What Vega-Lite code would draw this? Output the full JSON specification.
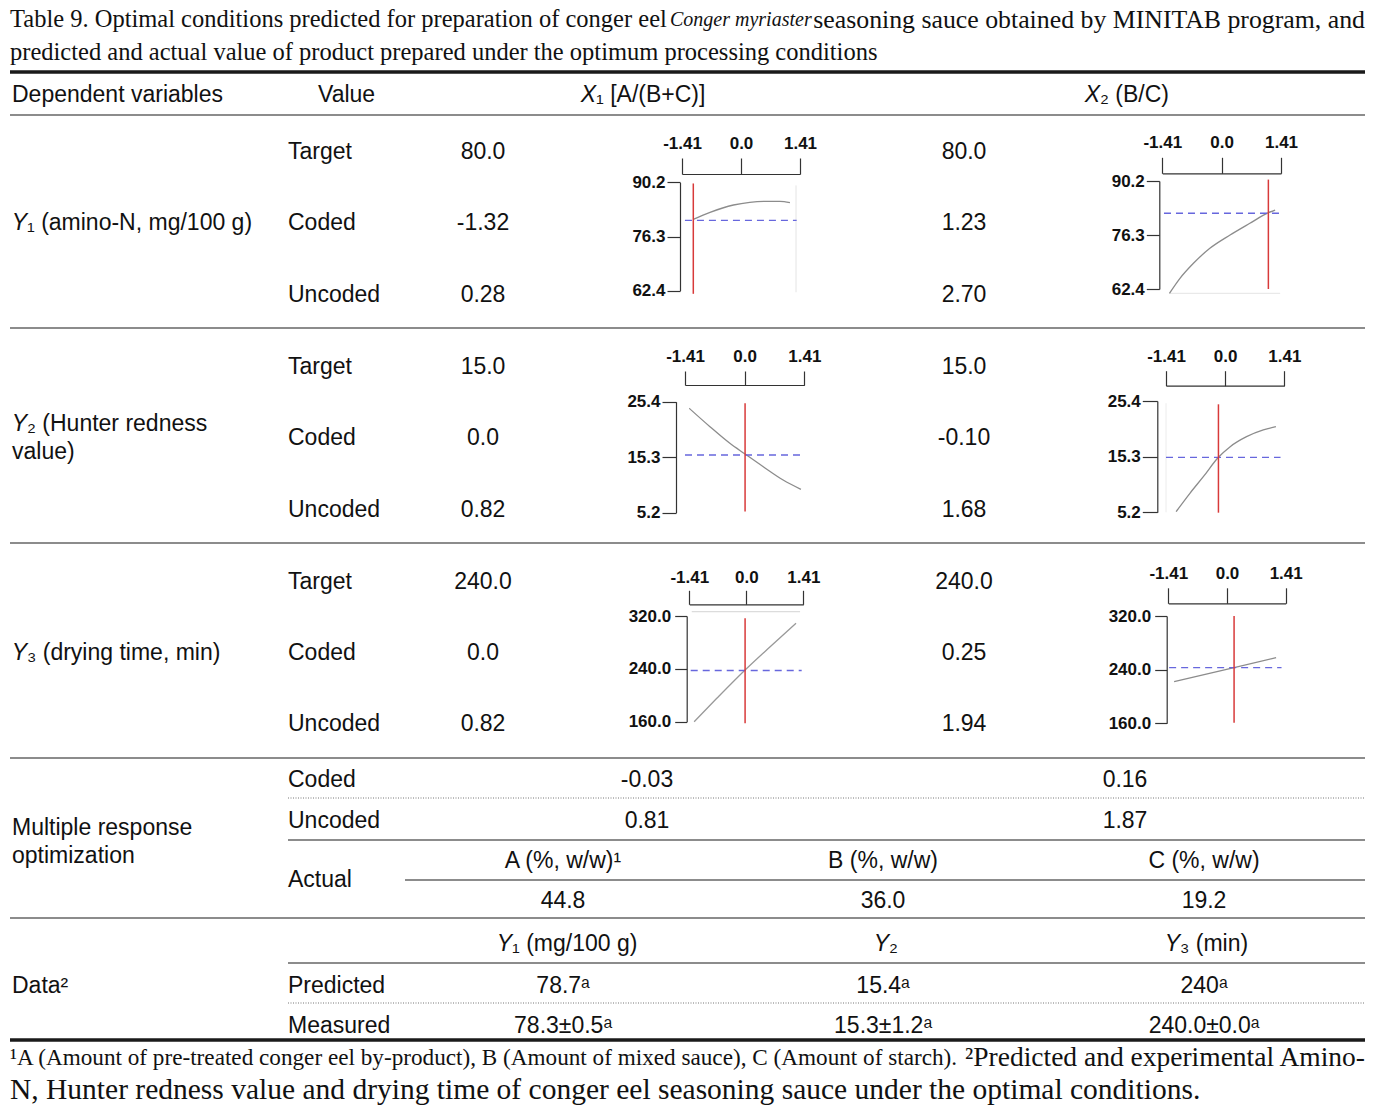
{
"$schema": "https://vega.github.io/schema/vega-lite/v6.json",
"width": 1385, "height": 1113, "padding": 0, "autosize": {"type": "none"},
"background": "white",
"config": {"view": {"stroke": null},
 "text": {"color": "#111", "baseline": "middle"},
 "axis": {"domainColor": "#333", "tickColor": "#333", "labelFont": "Liberation Sans", "labelFontWeight": "bold", "labelFontSize": 17, "labelColor": "#111", "grid": false, "labelFlush": false, "labelOverlap": false, "labelBound": false, "domainWidth": 1.2, "tickWidth": 1.2, "labelAngle": 0}},
"datasets": {
 "texts": [
  {"t": "Table 9. Optimal conditions predicted for preparation of conger eel", "col": 0, "row": 0, "role": "t1a"},
  {"t": "Conger myriaster", "col": 11, "row": 0, "role": "t1i"},
  {"t": "seasoning sauce obtained by MINITAB program, and", "col": 19, "row": 0, "role": "t1c"},
  {"t": "predicted and actual value of product prepared under the optimum processing conditions", "col": 0, "row": 1, "role": "t2"},
  {"t": "Dependent variables", "col": 1, "row": 3, "role": "l"},
  {"t": "Value", "col": 4, "row": 3, "role": "l"},
  {"t": "X", "col": 9, "row": 3, "role": "ir"},
  {"t": "₁ [A/(B+C)]", "col": 9, "row": 3, "role": "l"},
  {"t": "X", "col": 15, "row": 3, "role": "ir"},
  {"t": "₂ (B/C)", "col": 15, "row": 3, "role": "l"},
  {"t": "Y", "col": 2, "row": 6, "role": "ir"},
  {"t": "₁ (amino-N, mg/100 g)", "col": 2, "row": 6, "role": "l"},
  {"t": "Target", "col": 3, "row": 5, "role": "l"},
  {"t": "Coded", "col": 3, "row": 6, "role": "l"},
  {"t": "Uncoded", "col": 3, "row": 7, "role": "l"},
  {"t": "80.0", "col": 6, "row": 5, "role": "c"},
  {"t": "-1.32", "col": 6, "row": 6, "role": "c"},
  {"t": "0.28", "col": 6, "row": 7, "role": "c"},
  {"t": "80.0", "col": 14, "row": 5, "role": "c"},
  {"t": "1.23", "col": 14, "row": 6, "role": "c"},
  {"t": "2.70", "col": 14, "row": 7, "role": "c"},
  {"t": "Y", "col": 2, "row": 10, "role": "ir"},
  {"t": "₂ (Hunter redness", "col": 2, "row": 10, "role": "l"},
  {"t": "value)", "col": 1, "row": 12, "role": "l"},
  {"t": "Target", "col": 3, "row": 9, "role": "l"},
  {"t": "Coded", "col": 3, "row": 11, "role": "l"},
  {"t": "Uncoded", "col": 3, "row": 13, "role": "l"},
  {"t": "15.0", "col": 6, "row": 9, "role": "c"},
  {"t": "0.0", "col": 6, "row": 11, "role": "c"},
  {"t": "0.82", "col": 6, "row": 13, "role": "c"},
  {"t": "15.0", "col": 14, "row": 9, "role": "c"},
  {"t": "-0.10", "col": 14, "row": 11, "role": "c"},
  {"t": "1.68", "col": 14, "row": 13, "role": "c"},
  {"t": "Y", "col": 2, "row": 16, "role": "ir"},
  {"t": "₃ (drying time, min)", "col": 2, "row": 16, "role": "l"},
  {"t": "Target", "col": 3, "row": 15, "role": "l"},
  {"t": "Coded", "col": 3, "row": 16, "role": "l"},
  {"t": "Uncoded", "col": 3, "row": 17, "role": "l"},
  {"t": "240.0", "col": 6, "row": 15, "role": "c"},
  {"t": "0.0", "col": 6, "row": 16, "role": "c"},
  {"t": "0.82", "col": 6, "row": 17, "role": "c"},
  {"t": "240.0", "col": 14, "row": 15, "role": "c"},
  {"t": "0.25", "col": 14, "row": 16, "role": "c"},
  {"t": "1.94", "col": 14, "row": 17, "role": "c"},
  {"t": "Multiple response", "col": 1, "row": 22, "role": "l"},
  {"t": "optimization", "col": 1, "row": 24, "role": "l"},
  {"t": "Coded", "col": 3, "row": 19, "role": "l"},
  {"t": "Uncoded", "col": 3, "row": 21, "role": "l"},
  {"t": "Actual", "col": 3, "row": 26, "role": "l"},
  {"t": "-0.03", "col": 10, "row": 19, "role": "c"},
  {"t": "0.16", "col": 16, "row": 19, "role": "c"},
  {"t": "0.81", "col": 10, "row": 21, "role": "c"},
  {"t": "1.87", "col": 16, "row": 21, "role": "c"},
  {"t": "A (%, w/w)¹", "col": 8, "row": 25, "role": "c"},
  {"t": "B (%, w/w)", "col": 12, "row": 25, "role": "c"},
  {"t": "C (%, w/w)", "col": 18, "row": 25, "role": "c"},
  {"t": "44.8", "col": 8, "row": 27, "role": "c"},
  {"t": "36.0", "col": 12, "row": 27, "role": "c"},
  {"t": "19.2", "col": 18, "row": 27, "role": "c"},
  {"t": "Data²", "col": 1, "row": 31, "role": "l"},
  {"t": "Y", "col": 7, "row": 29, "role": "ir"},
  {"t": "₁ (mg/100 g)", "col": 7, "row": 29, "role": "l"},
  {"t": "Y", "col": 13, "row": 29, "role": "ir"},
  {"t": "₂", "col": 13, "row": 29, "role": "l"},
  {"t": "Y", "col": 17, "row": 29, "role": "ir"},
  {"t": "₃ (min)", "col": 17, "row": 29, "role": "l"},
  {"t": "Predicted", "col": 3, "row": 31, "role": "l"},
  {"t": "Measured", "col": 3, "row": 33, "role": "l"},
  {"t": "78.7ᵃ", "col": 8, "row": 31, "role": "c"},
  {"t": "15.4ᵃ", "col": 12, "row": 31, "role": "c"},
  {"t": "240ᵃ", "col": 18, "row": 31, "role": "c"},
  {"t": "78.3±0.5ᵃ", "col": 8, "row": 33, "role": "c"},
  {"t": "15.3±1.2ᵃ", "col": 12, "row": 33, "role": "c"},
  {"t": "240.0±0.0ᵃ", "col": 18, "row": 33, "role": "c"},
  {"t": "¹A (Amount of pre-treated conger eel by-product), B (Amount of mixed sauce), C (Amount of starch).", "col": 0, "row": 35, "role": "f1a"},
  {"t": "²Predicted and experimental Amino-", "col": 19, "row": 35, "role": "f1b"},
  {"t": "N, Hunter redness value and drying time of conger eel seasoning sauce under the optimal conditions.", "col": 0, "row": 36, "role": "f2"}
 ],
 "rules": [
  {"row": 2, "col": 0, "col2": 19, "kind": "thick"},
  {"row": 4, "col": 0, "col2": 19, "kind": "thin"},
  {"row": 8, "col": 0, "col2": 19, "kind": "thin"},
  {"row": 14, "col": 0, "col2": 19, "kind": "thin"},
  {"row": 18, "col": 0, "col2": 19, "kind": "thin"},
  {"row": 20, "col": 3, "col2": 19, "kind": "dot"},
  {"row": 23, "col": 3, "col2": 19, "kind": "thin"},
  {"row": 26, "col": 5, "col2": 19, "kind": "thin"},
  {"row": 28, "col": 0, "col2": 19, "kind": "thin"},
  {"row": 30, "col": 3, "col2": 19, "kind": "thin"},
  {"row": 32, "col": 3, "col2": 19, "kind": "dot"},
  {"row": 34, "col": 0, "col2": 19, "kind": "thick"}
 ],
 "mini": [
  {"panel": "Y1X1", "part": "curve", "cx": -1.14, "cy": 80.71},
  {"panel": "Y1X1", "part": "curve", "cx": -0.74, "cy": 82.51},
  {"panel": "Y1X1", "part": "curve", "cx": -0.18, "cy": 84.38},
  {"panel": "Y1X1", "part": "curve", "cx": 0.21, "cy": 85.07},
  {"panel": "Y1X1", "part": "curve", "cx": 0.61, "cy": 85.33},
  {"panel": "Y1X1", "part": "curve", "cx": 0.93, "cy": 85.33},
  {"panel": "Y1X1", "part": "curve", "cx": 1.17, "cy": 84.97},
  {"panel": "Y1X1", "part": "opt", "cx": -1.14, "cx2": -1.14, "cy": 61.6, "cy2": 89.9},
  {"panel": "Y1X1", "part": "target", "cx": -1.34, "cx2": 1.33, "cy": 80.45, "cy2": 80.45},
  {"panel": "Y1X1", "part": "frame", "cx": 1.315, "cx2": 1.315, "cy": 62.0, "cy2": 89.4},
  {"panel": "Y1X2", "part": "curve", "cx": -1.24, "cy": 61.29},
  {"panel": "Y1X2", "part": "curve", "cx": -0.99, "cy": 65.15},
  {"panel": "Y1X2", "part": "curve", "cx": -0.67, "cy": 69.02},
  {"panel": "Y1X2", "part": "curve", "cx": -0.28, "cy": 72.88},
  {"panel": "Y1X2", "part": "curve", "cx": 0.2, "cy": 76.3},
  {"panel": "Y1X2", "part": "curve", "cx": 0.67, "cy": 79.31},
  {"panel": "Y1X2", "part": "curve", "cx": 1.11, "cy": 82.04},
  {"panel": "Y1X2", "part": "curve", "cx": 1.27, "cy": 82.73},
  {"panel": "Y1X2", "part": "opt", "cx": 1.11, "cx2": 1.11, "cy": 62.4, "cy2": 90.56},
  {"panel": "Y1X2", "part": "target", "cx": -1.37, "cx2": 1.4, "cy": 81.9, "cy2": 81.9},
  {"panel": "Y1X2", "part": "frame", "cx": -1.24, "cx2": 1.39, "cy": 61.29, "cy2": 61.29},
  {"panel": "Y2X1", "part": "curve", "cx": -1.31, "cy": 24.2},
  {"panel": "Y2X1", "part": "curve", "cx": -0.82, "cy": 20.85},
  {"panel": "Y2X1", "part": "curve", "cx": -0.35, "cy": 17.83},
  {"panel": "Y2X1", "part": "curve", "cx": 0.01, "cy": 15.88},
  {"panel": "Y2X1", "part": "curve", "cx": 0.44, "cy": 13.57},
  {"panel": "Y2X1", "part": "curve", "cx": 0.91, "cy": 11.15},
  {"panel": "Y2X1", "part": "curve", "cx": 1.33, "cy": 9.46},
  {"panel": "Y2X1", "part": "opt", "cx": 0.01, "cx2": 0.01, "cy": 5.4, "cy2": 25.1},
  {"panel": "Y2X1", "part": "target", "cx": -1.41, "cx2": 1.33, "cy": 15.7, "cy2": 15.7},
  {"panel": "Y2X2", "part": "curve", "cx": -1.17, "cy": 5.31},
  {"panel": "Y2X2", "part": "curve", "cx": -0.84, "cy": 8.65},
  {"panel": "Y2X2", "part": "curve", "cx": -0.52, "cy": 11.66},
  {"panel": "Y2X2", "part": "curve", "cx": -0.16, "cy": 15.18},
  {"panel": "Y2X2", "part": "curve", "cx": 0.12, "cy": 17.11},
  {"panel": "Y2X2", "part": "curve", "cx": 0.51, "cy": 18.92},
  {"panel": "Y2X2", "part": "curve", "cx": 0.91, "cy": 20.14},
  {"panel": "Y2X2", "part": "curve", "cx": 1.21, "cy": 20.74},
  {"panel": "Y2X2", "part": "opt", "cx": -0.16, "cx2": -0.16, "cy": 5.13, "cy2": 24.8},
  {"panel": "Y2X2", "part": "target", "cx": -1.41, "cx2": 1.32, "cy": 15.18, "cy2": 15.18},
  {"panel": "Y2X2", "part": "frame", "cx": -1.41, "cx2": -1.41, "cy": 5.2, "cy2": 25.0},
  {"panel": "Y3X1", "part": "curve", "cx": -1.29, "cy": 160},
  {"panel": "Y3X1", "part": "curve", "cx": -0.73, "cy": 195.4},
  {"panel": "Y3X1", "part": "curve", "cx": -0.03, "cy": 238.3},
  {"panel": "Y3X1", "part": "curve", "cx": 0.59, "cy": 273.5},
  {"panel": "Y3X1", "part": "curve", "cx": 1.23, "cy": 308.9},
  {"panel": "Y3X1", "part": "opt", "cx": -0.03, "cx2": -0.03, "cy": 157.6, "cy2": 316.5},
  {"panel": "Y3X1", "part": "target", "cx": -1.375, "cx2": 1.37, "cy": 237.5, "cy2": 237.5},
  {"panel": "Y3X1", "part": "frame", "cx": -1.35, "cx2": 1.33, "cy": 326.5, "cy2": 326.5},
  {"panel": "Y3X2", "part": "curve", "cx": -1.27, "cy": 222.0},
  {"panel": "Y3X2", "part": "curve", "cx": 0.17, "cy": 243.0},
  {"panel": "Y3X2", "part": "curve", "cx": 1.18, "cy": 257.8},
  {"panel": "Y3X2", "part": "opt", "cx": 0.17, "cx2": 0.17, "cy": 160.9, "cy2": 320},
  {"panel": "Y3X2", "part": "target", "cx": -1.39, "cx2": 1.31, "cy": 242.9, "cy2": 242.9}
 ]
},
"resolve": {"scale": {"x": "independent", "y": "independent"}, "axis": {"x": "independent", "y": "independent"}},
"layer": [
 {
  "encoding": {
   "x": {"field": "col", "type": "quantitative", "axis": null, "scale": {"domain": [0,1,2,3,4,5,6,7,8,9,10,11,12,13,14,15,16,17,18,19], "range": [10,12,27,288,318,405,483,512,563,596,647,670,883,889,964,1100,1125,1180,1204,1365], "nice": false, "zero": false}},
   "y": {"field": "row", "type": "quantitative", "axis": null, "scale": {"domain": [0,1,2,3,4,5,6,7,8,9,10,11,12,13,14,15,16,17,18,19,20,21,22,23,24,25,26,27,28,29,30,31,32,33,34,35,36], "range": [20,53,72,95,115,152,223,295,328,367,424,438,452,510,543,582,653,724,758,780,798,821,828,840,856,861,880,901,918,944,963,986,1003,1026,1040,1058,1090], "nice": false, "zero": false}}
  },
  "layer": [
   {"data": {"name": "rules"}, "transform": [{"filter": "datum.kind === 'thin'"}], "mark": {"type": "rule", "color": "#8c8c8c", "strokeWidth": 2}, "encoding": {"x2": {"field": "col2"}}},
   {"data": {"name": "rules"}, "transform": [{"filter": "datum.kind === 'dot'"}], "mark": {"type": "rule", "color": "#777", "strokeWidth": 1, "strokeDash": [1, 1.5]}, "encoding": {"x2": {"field": "col2"}}},
   {"data": {"name": "rules"}, "transform": [{"filter": "datum.kind === 'thick'"}], "mark": {"type": "rule", "color": "#1a1a1a", "strokeWidth": 3.5}, "encoding": {"x2": {"field": "col2"}}},
   {"data": {"name": "texts"}, "transform": [{"filter": "datum.role === 't1a'"}], "mark": {"type": "text", "align": "left", "font": "Liberation Serif", "fontSize": 24.5}, "encoding": {"text": {"field": "t"}}},
   {"data": {"name": "texts"}, "transform": [{"filter": "datum.role === 't1i'"}], "mark": {"type": "text", "align": "left", "font": "Liberation Serif", "fontStyle": "italic", "fontSize": 20}, "encoding": {"text": {"field": "t"}}},
   {"data": {"name": "texts"}, "transform": [{"filter": "datum.role === 't1c'"}], "mark": {"type": "text", "align": "right", "font": "Liberation Serif", "fontSize": 25.8}, "encoding": {"text": {"field": "t"}}},
   {"data": {"name": "texts"}, "transform": [{"filter": "datum.role === 't2'"}], "mark": {"type": "text", "align": "left", "font": "Liberation Serif", "fontSize": 24.5}, "encoding": {"text": {"field": "t"}}},
   {"data": {"name": "texts"}, "transform": [{"filter": "datum.role === 'f1a'"}], "mark": {"type": "text", "align": "left", "font": "Liberation Serif", "fontSize": 23.2}, "encoding": {"text": {"field": "t"}}},
   {"data": {"name": "texts"}, "transform": [{"filter": "datum.role === 'f1b'"}], "mark": {"type": "text", "align": "right", "font": "Liberation Serif", "fontSize": 27.5}, "encoding": {"text": {"field": "t"}}},
   {"data": {"name": "texts"}, "transform": [{"filter": "datum.role === 'f2'"}], "mark": {"type": "text", "align": "left", "font": "Liberation Serif", "fontSize": 29.5}, "encoding": {"text": {"field": "t"}}},
   {"data": {"name": "texts"}, "transform": [{"filter": "datum.role === 'l'"}], "mark": {"type": "text", "align": "left", "font": "Liberation Sans", "fontSize": 23}, "encoding": {"text": {"field": "t"}}},
   {"data": {"name": "texts"}, "transform": [{"filter": "datum.role === 'c'"}], "mark": {"type": "text", "align": "center", "font": "Liberation Sans", "fontSize": 23}, "encoding": {"text": {"field": "t"}}},
   {"data": {"name": "texts"}, "transform": [{"filter": "datum.role === 'ir'"}], "mark": {"type": "text", "align": "right", "font": "Liberation Sans", "fontStyle": "italic", "fontSize": 23}, "encoding": {"text": {"field": "t"}}}
  ]
 },
 {
  "data": {"name": "mini"}, "transform": [{"filter": "datum.panel === 'Y1X1'"}],
  "encoding": {
   "x": {"field": "cx", "type": "quantitative", "scale": {"domain": [-1.41, 1.41], "range": [682, 800], "nice": false, "zero": false}, "axis": {"orient": "top", "offset": -174, "tickSize": 16, "labelPadding": 6, "values": [-1.41, 0, 1.41], "labelExpr": "datum.value < 0 ? '-1.41' : (datum.value > 0 ? '1.41' : '0.0')", "title": null}},
   "y": {"field": "cy", "type": "quantitative", "scale": {"domain": [62.4, 90.2], "range": [290.7, 182.3], "nice": false, "zero": false}, "axis": {"orient": "left", "offset": -680, "tickSize": 13, "labelPadding": 2, "values": [62.4, 76.3, 90.2], "format": ".1f", "title": null}}
  },
  "layer": [
   {"transform": [{"filter": "datum.part === 'frame'"}], "mark": {"type": "rule", "color": "#e4e4e4", "strokeWidth": 1}, "encoding": {"x2": {"field": "cx2"}, "y2": {"field": "cy2"}}},
   {"transform": [{"filter": "datum.part === 'curve'"}], "mark": {"type": "line", "color": "#8c8c8c", "strokeWidth": 1.3, "interpolate": "monotone"}},
   {"transform": [{"filter": "datum.part === 'target'"}], "mark": {"type": "rule", "color": "#6767dd", "strokeWidth": 1.3, "strokeDash": [7, 5]}, "encoding": {"x2": {"field": "cx2"}, "y2": {"field": "cy2"}}},
   {"transform": [{"filter": "datum.part === 'opt'"}], "mark": {"type": "rule", "color": "#d83a3a", "strokeWidth": 1.5}, "encoding": {"x2": {"field": "cx2"}, "y2": {"field": "cy2"}}}
  ]
 },
 {
  "data": {"name": "mini"}, "transform": [{"filter": "datum.panel === 'Y1X2'"}],
  "encoding": {
   "x": {"field": "cx", "type": "quantitative", "scale": {"domain": [-1.41, 1.41], "range": [1162.3, 1281], "nice": false, "zero": false}, "axis": {"orient": "top", "offset": -173.3, "tickSize": 16, "labelPadding": 6, "values": [-1.41, 0, 1.41], "labelExpr": "datum.value < 0 ? '-1.41' : (datum.value > 0 ? '1.41' : '0.0')", "title": null}},
   "y": {"field": "cy", "type": "quantitative", "scale": {"domain": [62.4, 90.2], "range": [289, 181], "nice": false, "zero": false}, "axis": {"orient": "left", "offset": -1159.3, "tickSize": 13, "labelPadding": 2, "values": [62.4, 76.3, 90.2], "format": ".1f", "title": null}}
  },
  "layer": [
   {"transform": [{"filter": "datum.part === 'frame'"}], "mark": {"type": "rule", "color": "#e4e4e4", "strokeWidth": 1}, "encoding": {"x2": {"field": "cx2"}, "y2": {"field": "cy2"}}},
   {"transform": [{"filter": "datum.part === 'curve'"}], "mark": {"type": "line", "color": "#8c8c8c", "strokeWidth": 1.3, "interpolate": "monotone"}},
   {"transform": [{"filter": "datum.part === 'target'"}], "mark": {"type": "rule", "color": "#6767dd", "strokeWidth": 1.3, "strokeDash": [7, 5]}, "encoding": {"x2": {"field": "cx2"}, "y2": {"field": "cy2"}}},
   {"transform": [{"filter": "datum.part === 'opt'"}], "mark": {"type": "rule", "color": "#d83a3a", "strokeWidth": 1.5}, "encoding": {"x2": {"field": "cx2"}, "y2": {"field": "cy2"}}}
  ]
 },
 {
  "data": {"name": "mini"}, "transform": [{"filter": "datum.panel === 'Y2X1'"}],
  "encoding": {
   "x": {"field": "cx", "type": "quantitative", "scale": {"domain": [-1.41, 1.41], "range": [685, 804.3], "nice": false, "zero": false}, "axis": {"orient": "top", "offset": -385, "tickSize": 14, "labelPadding": 6, "values": [-1.41, 0, 1.41], "labelExpr": "datum.value < 0 ? '-1.41' : (datum.value > 0 ? '1.41' : '0.0')", "title": null}},
   "y": {"field": "cy", "type": "quantitative", "scale": {"domain": [5.2, 25.4], "range": [512.7, 401.7], "nice": false, "zero": false}, "axis": {"orient": "left", "offset": -676, "tickSize": 14, "labelPadding": 2, "values": [5.2, 15.3, 25.4], "format": ".1f", "title": null}}
  },
  "layer": [
   {"transform": [{"filter": "datum.part === 'frame'"}], "mark": {"type": "rule", "color": "#e4e4e4", "strokeWidth": 1}, "encoding": {"x2": {"field": "cx2"}, "y2": {"field": "cy2"}}},
   {"transform": [{"filter": "datum.part === 'curve'"}], "mark": {"type": "line", "color": "#8c8c8c", "strokeWidth": 1.3, "interpolate": "monotone"}},
   {"transform": [{"filter": "datum.part === 'target'"}], "mark": {"type": "rule", "color": "#6767dd", "strokeWidth": 1.3, "strokeDash": [7, 5]}, "encoding": {"x2": {"field": "cx2"}, "y2": {"field": "cy2"}}},
   {"transform": [{"filter": "datum.part === 'opt'"}], "mark": {"type": "rule", "color": "#d83a3a", "strokeWidth": 1.5}, "encoding": {"x2": {"field": "cx2"}, "y2": {"field": "cy2"}}}
  ]
 },
 {
  "data": {"name": "mini"}, "transform": [{"filter": "datum.panel === 'Y2X2'"}],
  "encoding": {
   "x": {"field": "cx", "type": "quantitative", "scale": {"domain": [-1.41, 1.41], "range": [1166, 1284.3], "nice": false, "zero": false}, "axis": {"orient": "top", "offset": -385.7, "tickSize": 15, "labelPadding": 5, "values": [-1.41, 0, 1.41], "labelExpr": "datum.value < 0 ? '-1.41' : (datum.value > 0 ? '1.41' : '0.0')", "title": null}},
   "y": {"field": "cy", "type": "quantitative", "scale": {"domain": [5.2, 25.4], "range": [512.3, 401], "nice": false, "zero": false}, "axis": {"orient": "left", "offset": -1157.3, "tickSize": 15, "labelPadding": 2, "values": [5.2, 15.3, 25.4], "format": ".1f", "title": null}}
  },
  "layer": [
   {"transform": [{"filter": "datum.part === 'frame'"}], "mark": {"type": "rule", "color": "#ececec", "strokeWidth": 1}, "encoding": {"x2": {"field": "cx2"}, "y2": {"field": "cy2"}}},
   {"transform": [{"filter": "datum.part === 'curve'"}], "mark": {"type": "line", "color": "#8c8c8c", "strokeWidth": 1.3, "interpolate": "monotone"}},
   {"transform": [{"filter": "datum.part === 'target'"}], "mark": {"type": "rule", "color": "#6767dd", "strokeWidth": 1.3, "strokeDash": [7, 5]}, "encoding": {"x2": {"field": "cx2"}, "y2": {"field": "cy2"}}},
   {"transform": [{"filter": "datum.part === 'opt'"}], "mark": {"type": "rule", "color": "#d83a3a", "strokeWidth": 1.5}, "encoding": {"x2": {"field": "cx2"}, "y2": {"field": "cy2"}}}
  ]
 },
 {
  "data": {"name": "mini"}, "transform": [{"filter": "datum.panel === 'Y3X1'"}],
  "encoding": {
   "x": {"field": "cx", "type": "quantitative", "scale": {"domain": [-1.41, 1.41], "range": [689.3, 803.3], "nice": false, "zero": false}, "axis": {"orient": "top", "offset": -604.3, "tickSize": 14, "labelPadding": 4, "values": [-1.41, 0, 1.41], "labelExpr": "datum.value < 0 ? '-1.41' : (datum.value > 0 ? '1.41' : '0.0')", "title": null}},
   "y": {"field": "cy", "type": "quantitative", "scale": {"domain": [160, 320], "range": [721.7, 616], "nice": false, "zero": false}, "axis": {"orient": "left", "offset": -686.7, "tickSize": 12, "labelPadding": 4, "values": [160, 240, 320], "format": ".1f", "title": null}}
  },
  "layer": [
   {"transform": [{"filter": "datum.part === 'frame'"}], "mark": {"type": "rule", "color": "#d4d4d4", "strokeWidth": 1}, "encoding": {"x2": {"field": "cx2"}, "y2": {"field": "cy2"}}},
   {"transform": [{"filter": "datum.part === 'curve'"}], "mark": {"type": "line", "color": "#999", "strokeWidth": 1.3, "interpolate": "monotone"}},
   {"transform": [{"filter": "datum.part === 'target'"}], "mark": {"type": "rule", "color": "#6767dd", "strokeWidth": 1.3, "strokeDash": [7, 5]}, "encoding": {"x2": {"field": "cx2"}, "y2": {"field": "cy2"}}},
   {"transform": [{"filter": "datum.part === 'opt'"}], "mark": {"type": "rule", "color": "#d83a3a", "strokeWidth": 1.5}, "encoding": {"x2": {"field": "cx2"}, "y2": {"field": "cy2"}}}
  ]
 },
 {
  "data": {"name": "mini"}, "transform": [{"filter": "datum.panel === 'Y3X2'"}],
  "encoding": {
   "x": {"field": "cx", "type": "quantitative", "scale": {"domain": [-1.41, 1.41], "range": [1168.3, 1285.7], "nice": false, "zero": false}, "axis": {"orient": "top", "offset": -603.3, "tickSize": 15.5, "labelPadding": 5, "values": [-1.41, 0, 1.41], "labelExpr": "datum.value < 0 ? '-1.41' : (datum.value > 0 ? '1.41' : '0.0')", "title": null}},
   "y": {"field": "cy", "type": "quantitative", "scale": {"domain": [160, 320], "range": [723.3, 616], "nice": false, "zero": false}, "axis": {"orient": "left", "offset": -1166.7, "tickSize": 12, "labelPadding": 4, "values": [160, 240, 320], "format": ".1f", "title": null}}
  },
  "layer": [
   {"transform": [{"filter": "datum.part === 'frame'"}], "mark": {"type": "rule", "color": "#e4e4e4", "strokeWidth": 1}, "encoding": {"x2": {"field": "cx2"}, "y2": {"field": "cy2"}}},
   {"transform": [{"filter": "datum.part === 'curve'"}], "mark": {"type": "line", "color": "#8c8c8c", "strokeWidth": 1.3, "interpolate": "monotone"}},
   {"transform": [{"filter": "datum.part === 'target'"}], "mark": {"type": "rule", "color": "#6767dd", "strokeWidth": 1.3, "strokeDash": [7, 5]}, "encoding": {"x2": {"field": "cx2"}, "y2": {"field": "cy2"}}},
   {"transform": [{"filter": "datum.part === 'opt'"}], "mark": {"type": "rule", "color": "#d83a3a", "strokeWidth": 1.5}, "encoding": {"x2": {"field": "cx2"}, "y2": {"field": "cy2"}}}
  ]
 }
]
}
